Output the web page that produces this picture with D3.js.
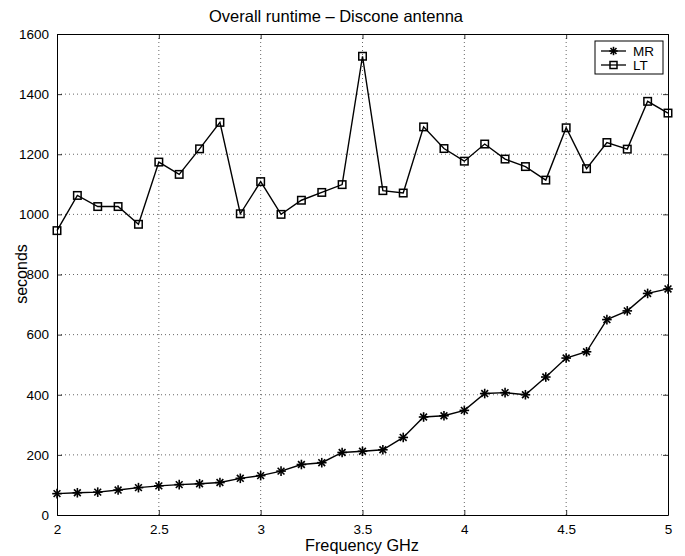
<!DOCTYPE html>
<html><head><meta charset="utf-8">
<script src="https://cdn.jsdelivr.net/npm/d3@7/dist/d3.min.js"></script>
<style>body{margin:0;background:#fff}svg{display:block}text{font-family:"Liberation Sans",Arial,sans-serif;fill:#000}</style>
</head><body><svg id="c" width="685" height="556"></svg>
<script>
const freq = [2.0,2.1,2.2,2.3,2.4,2.5,2.6,2.7,2.8,2.9,3.0,3.1,3.2,3.3,3.4,3.5,3.6,3.7,3.8,3.9,4.0,4.1,4.2,4.3,4.4,4.5,4.6,4.7,4.8,4.9,5.0];
const mrValues = [71,74,76,83,91,97,101,104,108,122,131,146,168,174,208,212,217,258,326,330,348,404,407,400,459,522,543,650,679,737,752];
const ltValues = [946,1063,1026,1026,967,1174,1133,1218,1306,1002,1109,1000,1047,1073,1099,1526,1079,1071,1291,1219,1177,1234,1184,1159,1114,1288,1152,1239,1217,1376,1337];
const xTicks = [2,2.5,3,3.5,4,4.5,5];
const yTicks = [0,200,400,600,800,1000,1200,1400,1600];
const seriesNames = ["MR","LT"];

const svg = d3.select("#c");
const L=57,R=668,T=34,B=515;
const x = d3.scaleLinear().domain([2,5]).range([L,R]);
const y = d3.scaleLinear().domain([0,1600]).range([B,T]);

// grid
const g = svg.append("g");
g.selectAll(".gx").data(xTicks.slice(1,-1)).join("line")
  .attr("x1",d=>x(d)).attr("x2",d=>x(d)).attr("y1",T).attr("y2",B)
  .attr("stroke","#000").attr("stroke-width",0.6).attr("stroke-dasharray","1,3");
g.selectAll(".gy").data(yTicks.slice(1,-1)).join("line")
  .attr("y1",d=>y(d)).attr("y2",d=>y(d)).attr("x1",L).attr("x2",R)
  .attr("stroke","#000").attr("stroke-width",0.6).attr("stroke-dasharray","1,3");

// axes (ticks inward)
const fmt = d=>d3.format("")(d);
const ax = svg.append("g").attr("transform",`translate(0,${B})`)
  .call(d3.axisBottom(x).tickValues(xTicks).tickFormat(fmt).tickSizeInner(-5).tickSizeOuter(0).tickPadding(9));
const axT = svg.append("g").attr("transform",`translate(0,${T})`)
  .call(d3.axisTop(x).tickValues(xTicks).tickFormat("").tickSizeInner(-5).tickSizeOuter(0));
const ay = svg.append("g").attr("transform",`translate(${L},0)`)
  .call(d3.axisLeft(y).tickValues(yTicks).tickFormat(fmt).tickSizeInner(-5).tickSizeOuter(0).tickPadding(8));
const ayR = svg.append("g").attr("transform",`translate(${R},0)`)
  .call(d3.axisRight(y).tickValues(yTicks).tickFormat("").tickSizeInner(-5).tickSizeOuter(0));
[ax,axT,ay,ayR].forEach(a=>{
  a.selectAll("path").attr("stroke","#000").attr("stroke-width",1);
  a.selectAll("line").attr("stroke","#000").attr("stroke-width",0.8);
  a.selectAll("text").attr("font-size",13.5).attr("font-family","Liberation Sans, Arial, sans-serif");
});

// lines
const line = d3.line().x((d,i)=>x(freq[i])).y(d=>y(d));
svg.append("path").datum(ltValues).attr("d",line).attr("fill","none").attr("stroke","#000").attr("stroke-width",1.4);
svg.append("path").datum(mrValues).attr("d",line).attr("fill","none").attr("stroke","#000").attr("stroke-width",1.4);

function star(sel,cx,cy,r){
  const gg = sel.append("g").attr("transform",`translate(${cx},${cy})`);
  for(let k=0;k<4;k++){
    const a=k*Math.PI/4;
    gg.append("line").attr("x1",-r*Math.cos(a)).attr("y1",-r*Math.sin(a)).attr("x2",r*Math.cos(a)).attr("y2",r*Math.sin(a))
      .attr("stroke","#000").attr("stroke-width",1.6);
  }
}
function square(sel,cx,cy,s){
  sel.append("rect").attr("x",cx-s/2).attr("y",cy-s/2).attr("width",s).attr("height",s)
    .attr("fill","none").attr("stroke","#000").attr("stroke-width",1.5);
}
const mk = svg.append("g");
ltValues.forEach((v,i)=>square(mk,x(freq[i]),y(v),7.5));
mrValues.forEach((v,i)=>star(mk,x(freq[i]),y(v),4.8));

// legend
const lg = svg.append("g");
lg.append("rect").attr("x",595).attr("y",41).attr("width",68).attr("height",33)
  .attr("fill","#fff").attr("stroke","#000").attr("stroke-width",1);
lg.append("line").attr("x1",601).attr("x2",626).attr("y1",51).attr("y2",51).attr("stroke","#000").attr("stroke-width",1.3);
star(lg,613.5,51,4.2);
lg.append("text").attr("x",633).attr("y",55.5).attr("font-size",13.5).text(seriesNames[0]);
lg.append("line").attr("x1",601).attr("x2",626).attr("y1",65).attr("y2",65).attr("stroke","#000").attr("stroke-width",1.3);
square(lg,613.5,65,7);
lg.append("text").attr("x",633).attr("y",69.5).attr("font-size",13.5).text(seriesNames[1]);

// labels
svg.append("text").attr("x",336).attr("y",22).attr("text-anchor","middle").attr("font-size",16.5)
  .text("Overall runtime \u2013 Discone antenna");
svg.append("text").attr("x",362).attr("y",551).attr("text-anchor","middle").attr("font-size",16.3)
  .text("Frequency GHz");
svg.append("text").attr("transform",`translate(27,274) rotate(-90)`).attr("text-anchor","middle").attr("font-size",16)
  .text("seconds");
</script></body></html>
